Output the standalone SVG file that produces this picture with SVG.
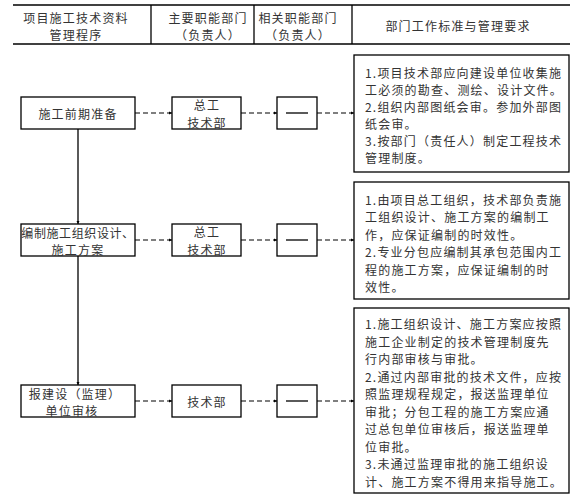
<svg xmlns="http://www.w3.org/2000/svg" width="577" height="504" viewBox="0 0 577 504">
<style>
text{font-family:"Noto Sans CJK SC","Noto Sans CJK TC",sans-serif;font-size:12px;fill:#333;letter-spacing:1.2px;dominant-baseline:central}
.c{text-anchor:middle}
.box{fill:#fff;stroke:#000;stroke-width:1.3}
.rule{stroke:#000;stroke-width:1.3;fill:none}
.dash{stroke:#000;stroke-width:1.2;stroke-dasharray:5 3;fill:none}
.solid{stroke:#000;stroke-width:1.3;fill:none}
</style>
<defs>
<marker id="ah" markerUnits="userSpaceOnUse" markerWidth="4" markerHeight="4" refX="3" refY="2" orient="auto">
<path d="M0,0.5 L3,2 L0,3.5 Z" fill="#000"/>
</marker>
</defs>
<rect width="577" height="504" fill="#fff"/>
<g id="header">
<line class="rule" x1="13" y1="5" x2="570" y2="5"/>
<line class="rule" x1="13" y1="44" x2="570" y2="44"/>
<line class="rule" x1="151" y1="5" x2="151" y2="44"/>
<line class="rule" x1="254" y1="5" x2="254" y2="44"/>
<line class="rule" x1="352" y1="5" x2="352" y2="44"/>
<text class="c" x="76" y="17">项目施工技术资料</text>
<text class="c" x="76" y="34">管理程序</text>
<text class="c" x="208" y="17">主要职能部门</text>
<text class="c" x="208" y="34">（负责人）</text>
<text class="c" x="298" y="17">相关职能部门</text>
<text class="c" x="298" y="34">（负责人）</text>
<text class="c" x="458" y="25">部门工作标准与管理要求</text>
</g>
<g id="connectors">
<line class="solid" x1="78" y1="129" x2="78" y2="224" marker-end="url(#ah)"/>
<line class="solid" x1="78" y1="256" x2="78" y2="385" marker-end="url(#ah)"/>
<line class="dash" x1="135" y1="113" x2="172" y2="113" marker-end="url(#ah)"/>
<line class="dash" x1="241" y1="113" x2="277" y2="113" marker-end="url(#ah)"/>
<line class="dash" x1="317" y1="113" x2="354" y2="113" marker-end="url(#ah)"/>
<line class="dash" x1="135" y1="240" x2="172" y2="240" marker-end="url(#ah)"/>
<line class="dash" x1="241" y1="240" x2="277" y2="240" marker-end="url(#ah)"/>
<line class="dash" x1="317" y1="240" x2="354" y2="240" marker-end="url(#ah)"/>
<line class="dash" x1="135" y1="401" x2="172" y2="401" marker-end="url(#ah)"/>
<line class="dash" x1="241" y1="401" x2="277" y2="401" marker-end="url(#ah)"/>
<line class="dash" x1="317" y1="401" x2="354" y2="401" marker-end="url(#ah)"/>
</g>
<g id="step1">
<rect class="box" x="21" y="97" width="114" height="32"/>
<text class="c" x="78" y="113">施工前期准备</text>
</g>
<g id="main1">
<rect class="box" x="172" y="97" width="69" height="32"/>
<text class="c" x="207" y="104">总工</text>
<text class="c" x="207" y="122">技术部</text>
</g>
<g id="rel1">
<rect class="box" x="277" y="97" width="40" height="32"/>
<line class="solid" x1="286" y1="113" x2="308" y2="113"/>
</g>
<g id="req1">
<rect class="box" x="354" y="55" width="215" height="117"/>
<text x="365" y="72">1.项目技术部应向建设单位收集施</text>
<text x="365" y="89">工必须的勘查、测绘、设计文件。</text>
<text x="365" y="106">2.组织内部图纸会审。参加外部图</text>
<text x="365" y="123">纸会审。</text>
<text x="365" y="140">3.按部门（责任人）制定工程技术</text>
<text x="365" y="157">管理制度。</text>
</g>
<g id="step2">
<rect class="box" x="21" y="224" width="114" height="32"/>
<text class="c" x="78" y="232" style="letter-spacing:0.6px">编制施工组织设计、</text>
<text class="c" x="78" y="249">施工方案</text>
</g>
<g id="main2">
<rect class="box" x="172" y="224" width="69" height="32"/>
<text class="c" x="207" y="231">总工</text>
<text class="c" x="207" y="249">技术部</text>
</g>
<g id="rel2">
<rect class="box" x="277" y="224" width="40" height="32"/>
<line class="solid" x1="286" y1="240" x2="308" y2="240"/>
</g>
<g id="req2">
<rect class="box" x="354" y="182" width="215" height="117"/>
<text x="365" y="199">1.由项目总工组织，技术部负责施</text>
<text x="365" y="216">工组织设计、施工方案的编制工</text>
<text x="365" y="234">作，应保证编制的时效性。</text>
<text x="365" y="251">2.专业分包应编制其承包范围内工</text>
<text x="365" y="269">程的施工方案，应保证编制的时</text>
<text x="365" y="286">效性。</text>
</g>
<g id="step3">
<rect class="box" x="21" y="385" width="114" height="32"/>
<text class="c" x="75" y="393">报建设（监理）</text>
<text class="c" x="72" y="410">单位审核</text>
</g>
<g id="main3">
<rect class="box" x="172" y="385" width="69" height="32"/>
<text class="c" x="207" y="401">技术部</text>
</g>
<g id="rel3">
<rect class="box" x="277" y="385" width="40" height="32"/>
<line class="solid" x1="286" y1="401" x2="308" y2="401"/>
</g>
<g id="req3">
<rect class="box" x="354" y="308" width="215" height="185"/>
<text x="365" y="323">1.施工组织设计、施工方案应按照</text>
<text x="365" y="341">施工企业制定的技术管理制度先</text>
<text x="365" y="358">行内部审核与审批。</text>
<text x="365" y="376">2.通过内部审批的技术文件，应按</text>
<text x="365" y="393">照监理规程规定，报送监理单位</text>
<text x="365" y="411">审批；分包工程的施工方案应通</text>
<text x="365" y="428">过总包单位审核后，报送监理单</text>
<text x="365" y="446">位审批。</text>
<text x="365" y="463">3.未通过监理审批的施工组织设</text>
<text x="365" y="481">计、施工方案不得用来指导施工。</text>
</g>
</svg>
